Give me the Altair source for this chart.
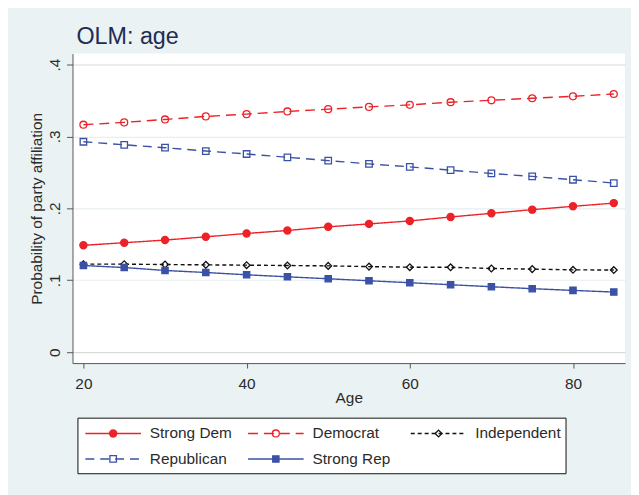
import altair as alt
import pandas as pd

ages = [20, 25, 30, 35, 40, 45, 50, 55, 60, 65, 70, 75, 80, 85]
strong_dem = [0.1486, 0.1522, 0.1559, 0.1604, 0.1651, 0.1692, 0.1743, 0.1784, 0.1825, 0.1880, 0.1931, 0.1982, 0.2028, 0.2073]
democrat = [0.3163, 0.3195, 0.3236, 0.3278, 0.3310, 0.3347, 0.3379, 0.3411, 0.3439, 0.3476, 0.3503, 0.3531, 0.3558, 0.3590]
independent = [0.1224, 0.1224, 0.1219, 0.1214, 0.1210, 0.1205, 0.1200, 0.1190, 0.1182, 0.1180, 0.1164, 0.1155, 0.1145, 0.1142]
republican = [0.2926, 0.2884, 0.2843, 0.2797, 0.2756, 0.2710, 0.2664, 0.2618, 0.2577, 0.2531, 0.2485, 0.2444, 0.2398, 0.2352]
strong_rep = [0.1205, 0.1177, 0.1136, 0.1108, 0.1076, 0.1048, 0.1021, 0.0993, 0.0966, 0.0938, 0.0910, 0.0883, 0.0859, 0.0836]

series_names = ["Strong Dem", "Democrat", "Independent", "Republican", "Strong Rep"]
y_ticks = [0, 0.1, 0.2, 0.3, 0.4]
x_ticks = [20, 40, 60, 80]
legend_cols = [0, 1, 2, 0, 1]
legend_rows = [0, 0, 0, 1, 1]

RED = "#EC2228"
BLUE = "#3A51A6"
BLACK = "#111111"
colors = [RED, RED, BLACK, BLUE, BLUE]
dashes = [[1, 0], [10, 6], [4, 3], [9, 6], [1, 0]]
shapes = ["circle", "circle", "diamond", "square", "square"]
fills = [RED, "transparent", "transparent", "transparent", BLUE]
sizes = [52, 40, 30, 34, 38]
TEXT = "#2B2B2B"
FONT = "Liberation Sans"

rows = []
for name, vals in zip(series_names, [strong_dem, democrat, independent, republican, strong_rep]):
    for a, v in zip(ages, vals):
        rows.append({"age": a, "prob": v, "series": name})
df = pd.DataFrame(rows)

leg_df = pd.DataFrame({"series": series_names, "col": legend_cols, "row": legend_rows})

color_s = alt.Scale(domain=series_names, range=colors)
dash_s = alt.Scale(domain=series_names, range=dashes)
shape_s = alt.Scale(domain=series_names, range=shapes)
fill_s = alt.Scale(domain=series_names, range=fills)
size_s = alt.Scale(domain=series_names, range=sizes)

x_enc = alt.X("age:Q", scale=alt.Scale(domain=[18.66, 86.38], nice=False, zero=False),
              axis=alt.Axis(values=x_ticks, title="Age", grid=False, format="d",
                            labelFontSize=15.5, titleFontSize=15.5, labelColor=TEXT, titleColor=TEXT,
                            labelFont=FONT, titleFont=FONT, titleFontWeight="normal",
                            tickSize=5, labelPadding=21, labelBaseline="alphabetic",
                            titleBaseline="alphabetic", titleY=39.5,
                            domainColor="#555555", tickColor="#555555"))
y_enc = alt.Y("prob:Q", scale=alt.Scale(domain=[-0.0152, 0.4152], nice=False, zero=False),
              axis=alt.Axis(values=y_ticks, title="Probability of party affiliation",
                            labelExpr="datum.value == 0 ? '0' : replace(format(datum.value, '.1f'), '0.', '.')",
                            labelAngle=270, labelAlign="center", labelBaseline="alphabetic",
                            labelPadding=7, tickSize=6,
                            labelFontSize=15.5, titleFontSize=15.5, labelColor=TEXT, titleColor=TEXT,
                            labelFont=FONT, titleFont=FONT, titleFontWeight="normal",
                            titleBaseline="alphabetic", titleX=-31.5, titleY=156,
                            grid=True,
                            gridColor=alt.condition("datum.value === 0 || datum.value === 0.4",
                                                    alt.value("#DADADA"), alt.value("#E6EEF1")),
                            gridWidth=1.2,
                            domainColor="#555555", tickColor="#555555"))

lines = alt.Chart(df).mark_line(strokeWidth=1.4).encode(
    x=x_enc, y=y_enc,
    color=alt.Color("series:N", scale=color_s, legend=None),
    strokeDash=alt.StrokeDash("series:N", scale=dash_s, legend=None),
)
points = alt.Chart(df).mark_point(opacity=1, strokeWidth=1.3).encode(
    x="age:Q", y="prob:Q",
    stroke=alt.Stroke("series:N", scale=color_s, legend=None),
    fill=alt.Fill("series:N", scale=fill_s, legend=None),
    shape=alt.Shape("series:N", scale=shape_s, legend=None),
    size=alt.Size("series:N", scale=size_s, legend=None),
)

main = alt.layer(lines, points).properties(
    width=557, height=312,
    view=alt.ViewBackground(fill="white", strokeWidth=0),
    title=alt.TitleParams("OLM: age", anchor="start", frame="group", fontSize=23.5,
                          font=FONT, fontWeight="normal", color="#1E2D53",
                          baseline="alphabetic", offset=-14, dx=4),
)

lx = alt.X("col:Q", scale=alt.Scale(domain=[0, 3], nice=False, zero=False), axis=None)
ly = alt.Y("row:Q", scale=alt.Scale(domain=[-0.62, 1.56], nice=False, zero=False, reverse=True), axis=None)

leg_base = alt.Chart(leg_df).transform_calculate(col2="datum.col")
leg_lines = leg_base.mark_rule(strokeWidth=1.4, xOffset=8, x2Offset=64).encode(
    x=lx, x2="col2:Q", y=ly,
    color=alt.Color("series:N", scale=color_s, legend=None),
    strokeDash=alt.StrokeDash("series:N", scale=dash_s, legend=None),
)
leg_pts = leg_base.mark_point(opacity=1, strokeWidth=1.3, xOffset=36).encode(
    x=lx, y=ly,
    stroke=alt.Stroke("series:N", scale=color_s, legend=None),
    fill=alt.Fill("series:N", scale=fill_s, legend=None),
    shape=alt.Shape("series:N", scale=shape_s, legend=None),
    size=alt.Size("series:N", scale=size_s, legend=None),
)
leg_text = leg_base.mark_text(align="left", baseline="middle", dx=73, fontSize=15.5,
                              font=FONT, color=TEXT).encode(
    x=lx, y=ly, text="series:N")

legend = alt.layer(leg_lines, leg_pts, leg_text).properties(
    width=492, height=56,
    view=alt.ViewBackground(fill="white", stroke="#111111", strokeWidth=1),
)

spacer = alt.Chart(leg_df).mark_point(opacity=0).encode(
    x=alt.value(0), y=alt.value(0)
).properties(width=1, height=56, view=alt.ViewBackground(strokeWidth=0))

legend_row = alt.hconcat(spacer, legend, spacing=4, bounds="flush")

chart = alt.vconcat(main, legend_row, spacing=55, bounds="flush").resolve_scale(
    color="independent", strokeDash="independent", shape="independent",
    fill="independent", size="independent", stroke="independent",
).properties(
    background="#EAF2F3",
    padding={"left": 21, "top": 15, "right": 6, "bottom": 20},
).configure_view(strokeWidth=0)

chart.save("out.html", embed_options={"renderer": "svg", "actions": False})
